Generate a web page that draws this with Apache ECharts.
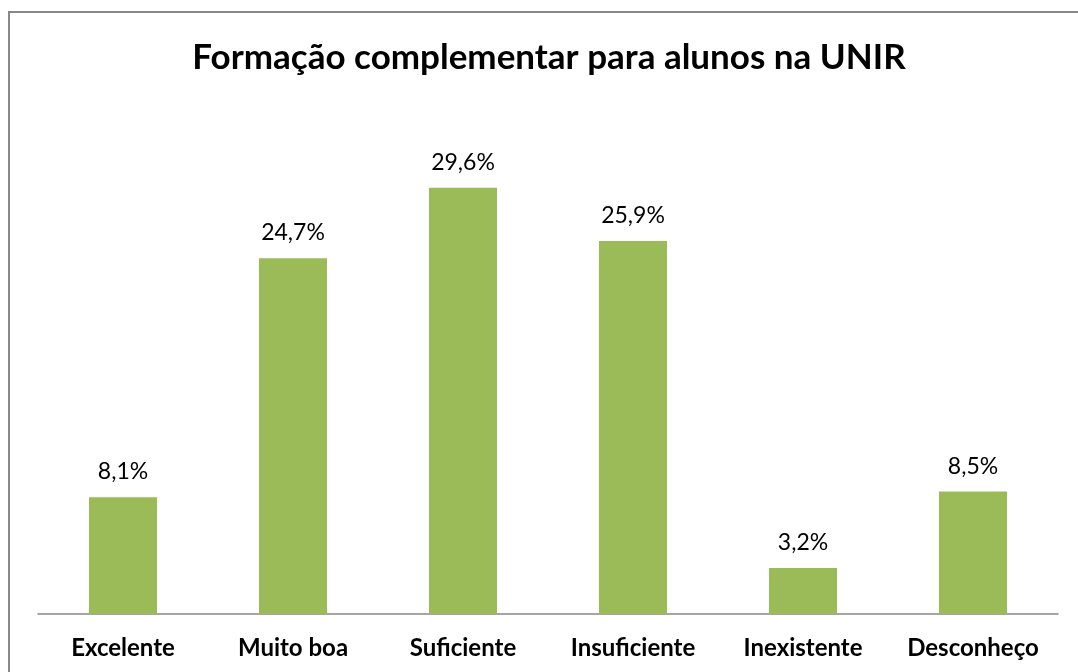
<!DOCTYPE html>
<html>
<head>
<meta charset="utf-8">
<script src="https://cdn.jsdelivr.net/npm/echarts@6/dist/echarts.min.js"></script>
<style>
  html, body { margin: 0; padding: 0; background: #fff; }
  #chart { width: 1078px; height: 672px; }
</style>
</head>
<body>
<div id="chart"></div>
<script>
const categories = ['Excelente', 'Muito boa', 'Suficiente', 'Insuficiente', 'Inexistente', 'Desconheço']
const percentages = [8.1, 24.7, 29.6, 25.9, 3.2, 8.5]

const chart = echarts.init(document.getElementById('chart'))
chart.setOption({
  animation: false,
  textStyle: { fontFamily: 'Lato' },
  title: {
    text: 'Formação complementar para alunos na UNIR',
    left: 544,
    top: 35,
    textAlign: 'center',
    textStyle: { fontFamily: 'Lato', fontWeight: 'bold', fontSize: 35, color: '#000' }
  },
  graphic: [{
    type: 'rect',
    shape: { x: 9, y: 12, width: 1100, height: 700 },
    style: { fill: 'none', stroke: '#888', lineWidth: 2 },
    silent: true
  }],
  grid: { left: 38, right: 20, top: 110, bottom: 58 },
  xAxis: {
    type: 'category',
    data: categories,
    axisLine: { lineStyle: { color: '#888', width: 1.5 } },
    axisTick: { show: false },
    axisLabel: { interval: 0, color: '#000', fontWeight: 'bold', fontSize: 24, margin: 22 }
  },
  yAxis: {
    type: 'value',
    min: 0,
    max: 35,
    show: false,
    splitLine: { show: false }
  },
  series: [{
    type: 'bar',
    data: percentages,
    barWidth: '40%',
    itemStyle: { color: '#9BBB59' },
    label: {
      show: true,
      position: 'top',
      distance: 14,
      color: '#000',
      fontSize: 23,
      formatter: p => p.value.toFixed(1).replace('.', ',') + '%'
    }
  }]
})
</script>
</body>
</html>
